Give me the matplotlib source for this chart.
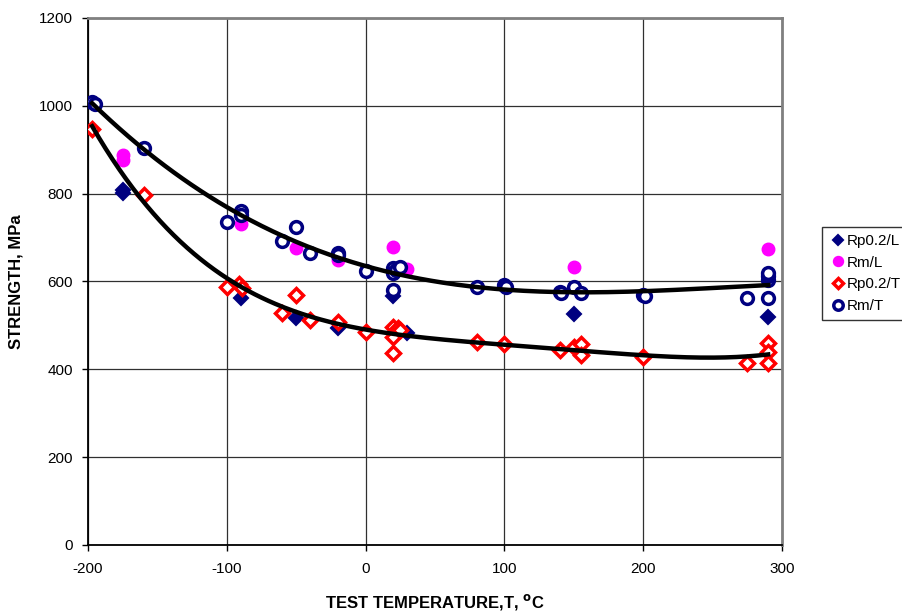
import numpy as np
import matplotlib
matplotlib.use("Agg")
import matplotlib.pyplot as plt

# ---- data ----
rp_l_T = [-175, -175, -90, -50, -20, 20, 30, 150, 290]
rp_l_V = [801, 808, 563, 517, 494, 567, 483, 526, 519]

rm_l_T = [-175, -175, -90, -50, -20, 20, 30, 150, 290]
rm_l_V = [888, 877, 732, 677, 650, 678, 629, 633, 674]

rp_t_T = [-197, -160, -100, -91, -89, -60, -50, -40, -20, 0, 20, 20, 20, 23, 25, 80, 100, 140, 150, 155, 155, 200, 275, 290, 290, 290]
rp_t_V = [947, 797, 587, 595, 585, 528, 569, 513, 507, 484, 496, 474, 438, 493, 489, 462, 457, 444, 450, 458, 432, 428, 415, 461, 439, 414]

rm_t_T = [-197, -195, -160, -100, -90, -90, -60, -50, -40, -20, -20, 0, 20, 20, 20, 22, 25, 80, 100, 101, 140, 141, 150, 155, 200, 201, 275, 290, 290, 290, 290]
rm_t_V = [1008, 1004, 904, 735, 760, 752, 692, 724, 665, 665, 660, 624, 580, 630, 620, 626, 632, 587, 592, 588, 575, 573, 587, 574, 570, 566, 562, 562, 603, 612, 620]

x_ticks = [-200, -100, 0, 100, 200, 300]
y_ticks = [0, 200, 400, 600, 800, 1000, 1200]

plt.rcParams['font.family'] = ['Liberation Sans', 'DejaVu Sans']
plt.rcParams['axes.unicode_minus'] = False

fig = plt.figure(figsize=(9.02, 6.14), dpi=100)
ax = fig.add_axes([88/902, 1-545/614, (782-88)/902, (545-18)/614])

ax.set_xlim(-200, 300)
ax.set_ylim(0, 1200)
ax.set_xticks(x_ticks)
ax.set_yticks(y_ticks)
ax.grid(True, color='#303030', lw=0.9)
ax.set_axisbelow(True)

# polynomial trendlines (as a spreadsheet would compute them)
xx = np.linspace(-197, 290, 300)
pu = np.polyfit(np.array(rm_t_T, float), np.array(rm_t_V, float), 3)
pl = np.polyfit(np.array(rp_t_T, float), np.array(rp_t_V, float), 4)

navy = '#000080'
ax.plot(rp_l_T, rp_l_V, linestyle='none', marker='D', ms=7, mfc=navy, mec=navy, mew=1.5, label='Rp0.2/L', zorder=3)
ax.plot(rm_l_T, rm_l_V, linestyle='none', marker='o', ms=9, mfc='#FF00FF', mec='#FF00FF', label='Rm/L', zorder=3)
ax.plot(rp_t_T, rp_t_V, linestyle='none', marker='D', ms=7, mfc='white', mec='red', mew=2.5, label='Rp0.2/T', zorder=3)
ax.plot(rm_t_T, rm_t_V, linestyle='none', marker='o', ms=8.5, mfc='white', mec=navy, mew=2.5, label='Rm/T', zorder=3)

ax.plot(xx, np.polyval(pu, xx), color='black', lw=3.2, zorder=4)
ax.plot(xx, np.polyval(pl, xx), color='black', lw=3.2, zorder=4)

for s in ['left', 'bottom']:
    ax.spines[s].set_color('black')
    ax.spines[s].set_linewidth(1.3)
for s in ['top', 'right']:
    ax.spines[s].set_color('#808080')
    ax.spines[s].set_linewidth(2)

ax.tick_params(direction='out', length=4, width=1, labelsize=11)
ax.tick_params(axis='x', pad=8)
ax.tick_params(axis='y', pad=7)

ax.set_xlabel('TEST TEMPERATURE,T, $^{\\mathbf{o}}$C', fontsize=12, fontweight='bold', labelpad=12)
ax.set_ylabel('STRENGTH, MPa', fontsize=12, fontweight='bold', labelpad=11)

leg = fig.legend(loc='lower left', bbox_to_anchor=(822/902, 1-320/614), frameon=True, fancybox=False,
                 edgecolor='black', fontsize=11, handletextpad=0.0, handlelength=1.2,
                 borderpad=0.45, borderaxespad=0.0, labelspacing=0.5, markerscale=0.8)
leg.get_frame().set_linewidth(1)

fig.savefig('out.png', dpi=100)
